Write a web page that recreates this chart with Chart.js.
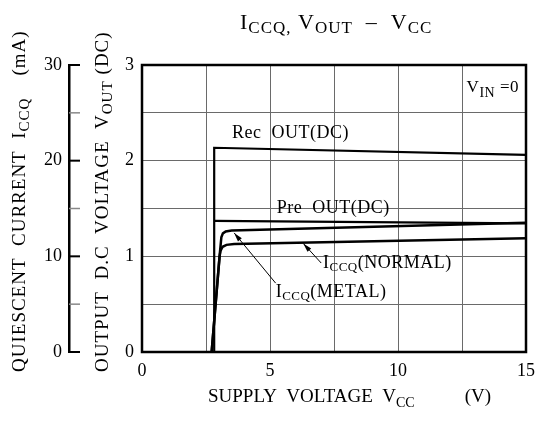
<!DOCTYPE html>
<html>
<head>
<meta charset="utf-8">
<script src="https://cdn.jsdelivr.net/npm/chart.js@4.4.1/dist/chart.umd.min.js"></script>
<style>
  html, body { margin: 0; padding: 0; background: #fff; }
  canvas { display: block; }
</style>
</head>
<body>
<canvas id="chart" width="543" height="430"></canvas>
<script>
// ---- data ----
const vccRec     = [2.82, 2.82, 15];
const recOut     = [0, 2.135, 2.06];          // V
const vccPre     = [2.82, 15];
const preOut     = [1.37, 1.345];             // V
const vccMetal   = [2.72, 3.03, 3.10, 3.16, 3.27, 3.5, 15];
const iccqMetal  = [0, 10.0, 12.0, 12.4, 12.6, 12.7, 13.5];   // mA
const vccNormal  = [2.72, 3.03, 3.07, 3.15, 3.3, 3.6, 15];
const iccqNormal = [0, 10.0, 10.6, 11.0, 11.2, 11.3, 11.9];   // mA

const SERIF = '"Liberation Serif", "DejaVu Serif", serif';

const pts = (xs, ys) => xs.map((x, i) => ({ x, y: ys[i] }));

// draw a run of text pieces (main + subscripts), optionally rotated
function drawRuns(ctx, x, y, runs, rotate, spacing) {
  ctx.save();
  ctx.translate(x, y);
  if (rotate) ctx.rotate(-Math.PI / 2);
  ctx.fillStyle = '#000';
  ctx.textAlign = 'left';
  ctx.textBaseline = 'alphabetic';
  if ('letterSpacing' in ctx) ctx.letterSpacing = (spacing || 0) + 'px';
  let cx = 0;
  runs.forEach(r => {
    cx += r.gap || 0;
    ctx.font = r.s + 'px ' + SERIF;
    ctx.fillText(r.t, cx, r.dy || 0);
    cx += ctx.measureText(r.t).width;
  });
  ctx.restore();
}

function arrow(ctx, x0, y0, x1, y1) {
  ctx.save();
  ctx.strokeStyle = '#000';
  ctx.fillStyle = '#000';
  ctx.lineWidth = 1;
  ctx.beginPath();
  ctx.moveTo(x0, y0);
  ctx.lineTo(x1, y1);
  ctx.stroke();
  const a = Math.atan2(y1 - y0, x1 - x0);
  ctx.beginPath();
  ctx.moveTo(x1, y1);
  ctx.lineTo(x1 - 9 * Math.cos(a) + 2.5 * Math.sin(a), y1 - 9 * Math.sin(a) - 2.5 * Math.cos(a));
  ctx.lineTo(x1 - 9 * Math.cos(a) - 2.5 * Math.sin(a), y1 - 9 * Math.sin(a) + 2.5 * Math.cos(a));
  ctx.closePath();
  ctx.fill();
  ctx.restore();
}

// labels inside the plot, anchored in data units (Vcc, Vout)
const notes = [
  { at: [3.52, 2.237], runs: [{ t: 'Rec  OUT(DC)', s: 18 }] },
  { at: [5.26, 1.453], runs: [{ t: 'Pre  OUT(DC)', s: 18 }] },
  { at: [7.07, 0.878], runs: [{ t: 'I', s: 18 }, { t: 'CCQ', s: 13, dy: 3 }, { t: '(NORMAL)', s: 18 }] },
  { at: [5.22, 0.575], runs: [{ t: 'I', s: 18 }, { t: 'CCQ', s: 13, dy: 3 }, { t: '(METAL)', s: 18 }] },
  { at: [12.68, 2.72], runs: [{ t: 'V', s: 17 }, { t: 'IN', s: 14, dy: 5 }, { t: ' =0', s: 17 }] }
];
const leaders = [
  { from: [7.0, 0.93], to: [6.3, 1.135] },
  { from: [5.22, 0.72], to: [3.6, 1.245] }
];

const decor = {
  id: 'decor',
  afterDraw(chart) {
    const { ctx, chartArea: a, scales } = chart;
    const sx = scales.x, sy = scales.y, s2 = scales.y2;

    // plot frame
    ctx.save();
    ctx.strokeStyle = '#000';
    ctx.lineWidth = 2.5;
    ctx.strokeRect(a.left, a.top, a.right - a.left, a.bottom - a.top);

    // ticks of the current axis point toward the plot
    s2.ticks.forEach(t => {
      const py = s2.getPixelForValue(t.value);
      const major = t.value % 10 === 0;
      ctx.strokeStyle = major ? '#000' : '#888';
      ctx.lineWidth = major ? 2 : 1.5;
      ctx.beginPath();
      ctx.moveTo(s2.right, py);
      ctx.lineTo(s2.right + 11, py);
      ctx.stroke();
    });
    ctx.restore();

    notes.forEach(n => drawRuns(ctx, sx.getPixelForValue(n.at[0]), sy.getPixelForValue(n.at[1]), n.runs, false, 0.5));
    leaders.forEach(l => arrow(ctx,
      sx.getPixelForValue(l.from[0]), sy.getPixelForValue(l.from[1]),
      sx.getPixelForValue(l.to[0]), sy.getPixelForValue(l.to[1])));

    // titles
    drawRuns(ctx, 240, 29, [
      { t: 'I', s: 22 }, { t: 'CCQ,', s: 17, dy: 4 },
      { t: ' V', s: 22 }, { t: 'OUT', s: 17, dy: 4 },
      { t: '  \u2013  V', s: 22 }, { t: 'CC', s: 17, dy: 4 }
    ], false, 1);
    drawRuns(ctx, 208, 402, [
      { t: 'SUPPLY  VOLTAGE  V', s: 19 }, { t: 'CC', s: 14, dy: 5 }, { t: '(V)', s: 19, gap: 50 }
    ], false, 0);
    drawRuns(ctx, 25, 372, [
      { t: 'QUIESCENT  CURRENT  I', s: 19 }, { t: 'CCQ', s: 15, dy: 4 }, { t: '(mA)', s: 19, gap: 22 }
    ], true, 1);
    drawRuns(ctx, 108, 372, [
      { t: 'OUTPUT  D.C  VOLTAGE  V', s: 19 }, { t: 'OUT', s: 15, dy: 4 }, { t: '(DC)', s: 19, gap: 6 }
    ], true, 1);
  }
};

const line = (data, yAxisID, width) => ({
  data, yAxisID, showLine: true, fill: false, tension: 0,
  borderColor: '#000', borderWidth: width, pointRadius: 0, pointHoverRadius: 0
});

const tickFont = { family: SERIF, size: 18 };
const gridColor = '#6a6a6a';

new Chart(document.getElementById('chart'), {
  type: 'scatter',
  data: {
    datasets: [
      line(pts(vccRec, recOut), 'y', 2.2),
      line(pts(vccPre, preOut), 'y', 2.2),
      line(pts(vccMetal, iccqMetal), 'y2', 2.5),
      line(pts(vccNormal, iccqNormal), 'y2', 2.5)
    ]
  },
  options: {
    responsive: false,
    animation: false,
    devicePixelRatio: 1,
    layout: { padding: { left: 4, right: 13, top: 65, bottom: 0 } },
    plugins: { legend: { display: false }, tooltip: { enabled: false }, title: { display: false } },
    scales: {
      x: {
        type: 'linear', min: 0, max: 15,
        ticks: { stepSize: 2.5, autoSkip: false, maxRotation: 0, color: '#000', font: tickFont, padding: 8,
                 callback: v => (v % 5 === 0 ? v : '') },
        grid: { color: gridColor, lineWidth: 1, drawTicks: false },
        border: { display: false },
        afterFit: s => { s.height = 78; }
      },
      y: {
        position: 'left', weight: 0, min: 0, max: 3,
        ticks: { stepSize: 0.5, color: '#000', font: tickFont, padding: 8,
                 callback: v => (Number.isInteger(v) ? v : '') },
        grid: { color: gridColor, lineWidth: 1, drawTicks: false },
        border: { display: false },
        afterFit: s => { s.width = 73; }
      },
      y2: {
        position: 'left', weight: 1, min: 0, max: 30,
        ticks: { stepSize: 5, color: '#000', font: tickFont, padding: 7,
                 callback: v => (v % 10 === 0 ? v : '') },
        grid: { drawOnChartArea: false, drawTicks: false },
        border: { display: true, color: '#000', width: 2.5 },
        afterFit: s => { s.width = 65; }
      }
    }
  },
  plugins: [decor]
});
</script>
</body>
</html>
